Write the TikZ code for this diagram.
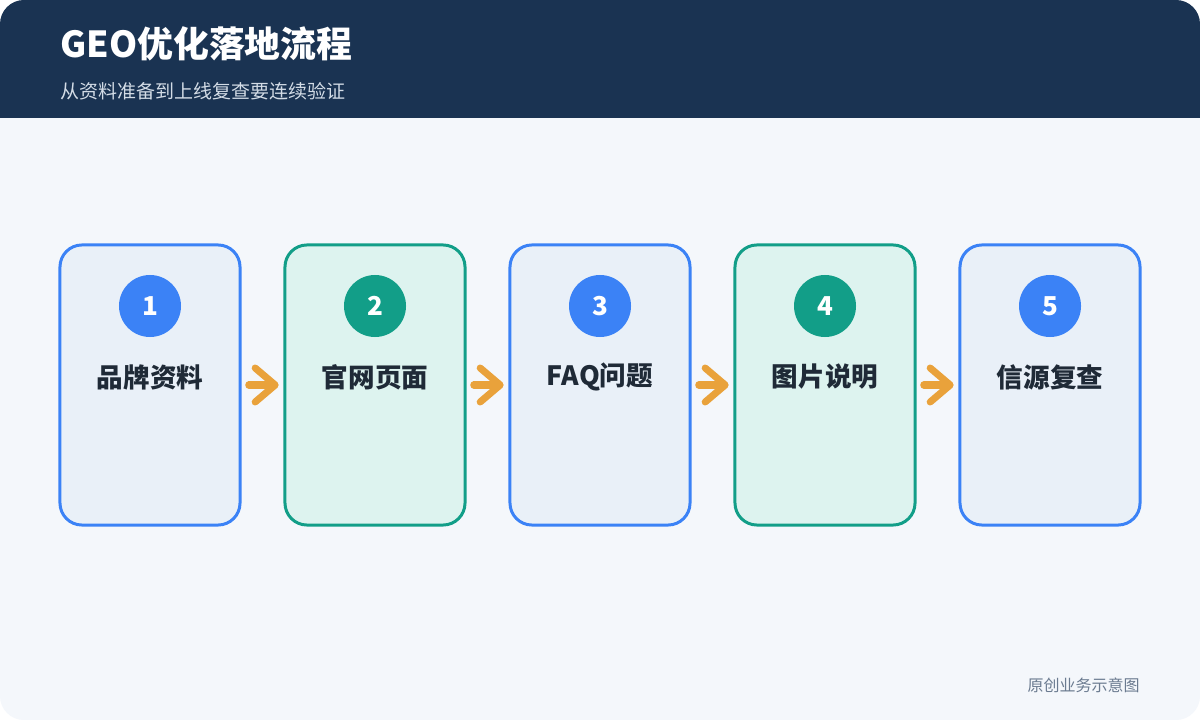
\documentclass[tikz,border=0pt]{standalone}
\usepackage{fontspec}
\setmainfont{Noto Sans CJK SC}
\usepackage{tikz}
\usetikzlibrary{arrows.meta,positioning,calc}
\usepackage{xcolor}
\definecolor{headbg}{HTML}{1A3352}
\definecolor{pagebg}{HTML}{F4F7FB}
\definecolor{subtext}{HTML}{D3DCE6}
\definecolor{cardblue}{HTML}{3B82F6}
\definecolor{cardbluebg}{HTML}{E9F0F8}
\definecolor{cardgreen}{HTML}{129E88}
\definecolor{cardgreenbg}{HTML}{DDF3EF}
\definecolor{labeltext}{HTML}{1F2A37}
\definecolor{flowcol}{HTML}{E9A23B}
\definecolor{notetext}{HTML}{6B7B90}

\begin{document}
\begin{tikzpicture}[x=0.025cm,y=-0.025cm,
  stepcard/.style={draw, rounded corners=0.55cm, line width=0.075cm, minimum width=4.5cm, minimum height=7cm, inner sep=0pt},
  bluecard/.style={stepcard, draw=cardblue, fill=cardbluebg},
  greencard/.style={stepcard, draw=cardgreen, fill=cardgreenbg},
  numdot/.style={circle, minimum size=1.55cm, inner sep=0pt, text=white, font=\bfseries\fontsize{18.5}{19}\selectfont},
  cardlabel/.style={text=labeltext, inner sep=0pt, font=\bfseries\fontsize{18.9}{20}\selectfont},
  flow/.style={draw=flowcol, line width=0.175cm, line cap=round, -{Straight Barb[round, length=0.5cm, width=0.85cm]}, shorten <=0.18cm, shorten >=0.12cm}
]
\useasboundingbox (0,0) rectangle (1200,720);
% page and header
\fill[white] (0,0) rectangle (1200,720);
\fill[pagebg, rounded corners=0.6cm] (0,0) rectangle (1200,720);
\fill[headbg, rounded corners=0.6cm] (0,118) -- (0,0) -- (1200,0) -- (1200,118) [sharp corners] -- cycle;
\fill[headbg] (0,60) rectangle (1200,118);
\node[anchor=west, text=white, inner sep=0pt, font=\bfseries\fontsize{25.5}{27}\selectfont] (title) at (60,44) {GEO优化落地流程};
\node[anchor=west, text=subtext, inner sep=0pt, font=\fontsize{13.5}{15}\selectfont] (subtitle) at (60,91) {从资料准备到上线复查要连续验证};

% steps
\node[bluecard] (s1) at (150,385) {};
\node[greencard] (s2) at (375,385) {};
\node[bluecard] (s3) at (600,385) {};
\node[greencard] (s4) at (825,385) {};
\node[bluecard] (s5) at (1050,385) {};

\node[numdot, fill=cardblue] (n1) at (150,306) {1};
\node[numdot, fill=cardgreen] (n2) at (375,306) {2};
\node[numdot, fill=cardblue] (n3) at (600,306) {3};
\node[numdot, fill=cardgreen] (n4) at (825,306) {4};
\node[numdot, fill=cardblue] (n5) at (1050,306) {5};

\node[cardlabel] (l1) at (150,377) {品牌资料};
\node[cardlabel] (l2) at (375,377) {官网页面};
\node[cardlabel] (l3) at (600,377) {FAQ问题};
\node[cardlabel] (l4) at (825,377) {图片说明};
\node[cardlabel] (l5) at (1050,377) {信源复查};

\draw[flow] (s1.east) -- (s2.west);
\draw[flow] (s2.east) -- (s3.west);
\draw[flow] (s3.east) -- (s4.west);
\draw[flow] (s4.east) -- (s5.west);

\node[anchor=east, text=notetext, inner sep=0pt, font=\fontsize{11.4}{13}\selectfont] (note) at (1140,685) {原创业务示意图};
\end{tikzpicture}
\end{document}
